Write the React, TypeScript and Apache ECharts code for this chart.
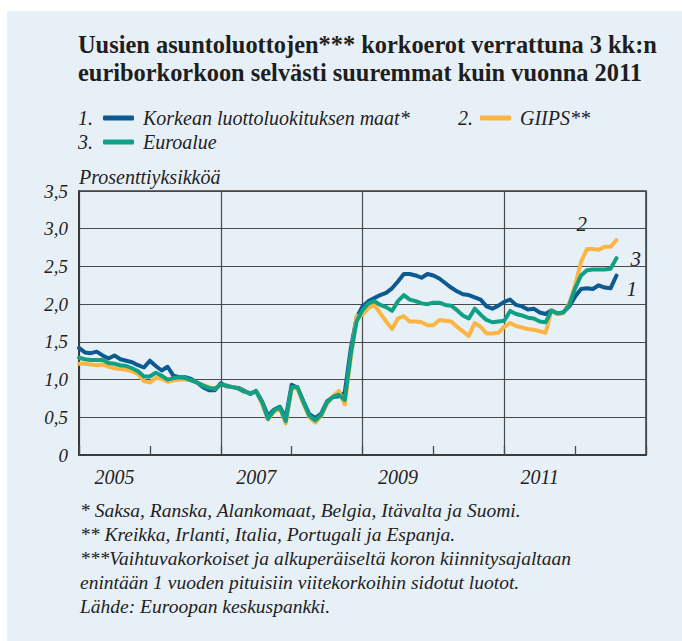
import React, { useEffect, useRef } from "react";
import * as echarts from "echarts";

// months since Jan 2005 (0 = Jan 2005)
const monthIndex: number[] = Array.from({ length: 92 }, (_, i) => i);

const korkeat: number[] = [
  1.42, 1.36, 1.35, 1.37, 1.32, 1.28, 1.32, 1.27, 1.25, 1.23, 1.19, 1.16,
  1.25, 1.18, 1.12, 1.17, 1.05, 1.03, 1.03, 1.01, 0.96, 0.9, 0.86, 0.86,
  0.95, 0.91, 0.9, 0.89, 0.85, 0.81, 0.85, 0.71, 0.52, 0.6, 0.64, 0.49,
  0.93, 0.89, 0.71, 0.54, 0.49, 0.55, 0.71, 0.77, 0.78, 0.83, 1.4, 1.82,
  1.97, 2.04, 2.08, 2.12, 2.15, 2.21, 2.3, 2.4, 2.4, 2.38, 2.35, 2.4,
  2.38, 2.34, 2.28, 2.22, 2.17, 2.13, 2.12, 2.09, 2.06, 1.97, 1.94, 1.98,
  2.03, 2.06, 1.99, 1.97, 1.93, 1.94, 1.89, 1.87, 1.92, 1.87, 1.89, 1.97,
  2.1, 2.2, 2.21, 2.2, 2.25, 2.22, 2.21, 2.38,
];

const giips: number[] = [
  1.21, 1.21, 1.2, 1.19, 1.2, 1.17, 1.15, 1.14, 1.13, 1.11, 1.07, 0.98,
  0.96, 1.02, 1.01, 0.97, 0.99, 1.0, 1.0, 0.99, 0.96, 0.93, 0.9, 0.88,
  0.93, 0.92, 0.9, 0.88, 0.84, 0.82, 0.84, 0.68, 0.47, 0.57, 0.62, 0.42,
  0.88, 0.88, 0.68, 0.5, 0.43, 0.52, 0.68, 0.78, 0.85, 0.67, 1.28, 1.84,
  1.86, 1.95, 1.99, 1.88, 1.77, 1.67, 1.81, 1.84, 1.77, 1.77, 1.76, 1.72,
  1.72, 1.79, 1.78, 1.77, 1.7, 1.64, 1.58, 1.75, 1.7, 1.61, 1.61, 1.62,
  1.7, 1.75, 1.71, 1.69, 1.67, 1.66, 1.64, 1.62, 1.92, 1.87, 1.88, 2.01,
  2.25, 2.56, 2.73, 2.73, 2.72, 2.76, 2.76, 2.85,
];

const euroalue: number[] = [
  1.29, 1.27, 1.26, 1.26, 1.26, 1.22, 1.21, 1.19, 1.18, 1.15, 1.11, 1.04,
  1.04, 1.09, 1.05, 1.0, 1.02, 1.03, 1.02, 0.99, 0.96, 0.92, 0.89, 0.88,
  0.93, 0.92, 0.9, 0.88, 0.84, 0.82, 0.84, 0.7, 0.48, 0.59, 0.63, 0.45,
  0.9, 0.9, 0.7, 0.52, 0.46, 0.53, 0.7, 0.77, 0.8, 0.73, 1.33, 1.77,
  1.92, 2.01, 2.04, 1.99, 1.96, 1.91, 2.04, 2.12, 2.06, 2.04, 2.01, 2.0,
  2.02, 2.02, 1.99, 1.98, 1.92, 1.85, 1.81, 1.94, 1.86, 1.79, 1.76, 1.77,
  1.78, 1.91, 1.87, 1.85, 1.82, 1.81, 1.77, 1.76, 1.91, 1.88, 1.89, 1.99,
  2.21, 2.38, 2.45, 2.46, 2.46, 2.46, 2.47, 2.61,
];

const seriesNames: string[] = [
  "Korkean luottoluokituksen maat*",
  "GIIPS**",
  "Euroalue",
];
const seriesNumbers: string[] = ["1.", "2.", "3."];
const endLabels: string[] = ["1", "2", "3"];

const yearLabels: string[] = ["2005", "2007", "2009", "2011"];
const firstYear = 2005;

const titleText =
  "Uusien asuntoluottojen*** korkoerot verrattuna 3 kk:n\neuriborkorkoon selvästi suuremmat kuin vuonna 2011";
const yUnit = "Prosenttiyksikköä";
const footnotes: string[] = [
  "* Saksa, Ranska, Alankomaat, Belgia, Itävalta ja Suomi.",
  "** Kreikka, Irlanti, Italia, Portugali ja Espanja.",
  "***Vaihtuvakorkoiset ja alkuperäiseltä koron kiinnitysajaltaan",
  "enintään 1 vuoden pituisiin viitekorkoihin sidotut luotot.",
  "Lähde: Euroopan keskuspankki.",
];

const BLUE = "#0b5a92";
const ORANGE = "#fbb545";
const GREEN = "#10a084";
const BG = "#e8f0f7";
const GRIDC = "#4a4a4a";
const TXT = "#222";
const SERIF = "'Liberation Serif', 'DejaVu Serif', serif";

export default function App() {
  const ref = useRef<HTMLDivElement>(null);
  useEffect(() => {
    if (!ref.current) return;
    const chart = echarts.init(ref.current, undefined, { renderer: "svg" });
    const toPairs = (arr: number[]) => arr.map((v, i) => [monthIndex[i], v]);
    const baseLegendText = {
      fontFamily: SERIF,
      fontStyle: "italic" as const,
      fontSize: 20,
      color: TXT,
      padding: [0, 0, 0, 4],
    };
    const legendCommon = {
      orient: "horizontal" as const,
      itemWidth: 31,
      itemHeight: 5,
      icon: "roundRect",
      textStyle: baseLegendText,
      selectedMode: false as const,
      padding: 0,
    };
    const colors = [BLUE, ORANGE, GREEN];
    const datasets = [korkeat, giips, euroalue];
    const endOffsets: [number, number][] = [
      [2, 14],
      [-48, -16],
      [6, 1],
    ];
    const series = datasets.map((d, k) => ({
      name: seriesNames[k],
      type: "line" as const,
      xAxisIndex: 0,
      yAxisIndex: 0,
      data: toPairs(d),
      showSymbol: false,
      symbol: "none",
      z: 3 + (k === 2 ? 2 : k),
      lineStyle: { color: colors[k], width: 4, cap: "round", join: "round" },
      itemStyle: { color: colors[k] },
      endLabel: {
        show: true,
        formatter: endLabels[k],
        offset: endOffsets[k],
        fontFamily: SERIF,
        fontStyle: "italic",
        fontSize: 21,
        color: TXT,
      },
    }));

    const option: any = {
      animation: false,
      backgroundColor: "#ffffff",
      title: {
        text: titleText,
        left: 78,
        top: 30,
        padding: 0,
        textStyle: {
          fontFamily: SERIF,
          fontWeight: "bold",
          fontSize: 24.4,
          lineHeight: 28,
          color: "#1e1e1e",
        },
      },
      legend: [
        { ...legendCommon, data: [seriesNames[0]], left: 103, top: 108 },
        { ...legendCommon, data: [seriesNames[1]], left: 480, top: 108 },
        { ...legendCommon, data: [seriesNames[2]], left: 103, top: 132 },
      ],
      grid: {
        left: 79,
        right: 36,
        top: 191,
        bottom: 186,
        show: true,
        borderColor: "#3a3a3a",
        borderWidth: 1.5,
        backgroundColor: "transparent",
      },
      xAxis: [
        {
          type: "value",
          min: 0,
          max: 96,
          interval: 6,
          position: "bottom",
          axisLine: { show: true, lineStyle: { color: "#3a3a3a", width: 2 } },
          axisTick: { show: false },
          splitLine: { show: false },
          axisLabel: {
            margin: 12,
            fontFamily: SERIF,
            fontStyle: "italic",
            fontSize: 20,
            color: TXT,
            formatter: (v: number) => {
              if (v % 24 !== 6) return "";
              const yr = String(firstYear + (v - 6) / 12);
              return yearLabels.includes(yr) ? yr : "";
            },
          },
        },
        {
          type: "value",
          min: 0,
          max: 96,
          interval: 24,
          position: "bottom",
          axisLine: { show: false },
          axisTick: { show: false },
          axisLabel: { show: false },
          splitLine: { show: true, lineStyle: { color: GRIDC, width: 1.2 } },
        },
        {
          type: "value",
          min: 0,
          max: 96,
          interval: 12,
          position: "bottom",
          axisLine: { show: false },
          axisTick: {
            show: true,
            inside: true,
            length: 9,
            lineStyle: { color: GRIDC, width: 1.3 },
          },
          axisLabel: { show: false },
          splitLine: { show: false },
        },
      ],
      yAxis: {
        type: "value",
        min: 0,
        max: 3.5,
        interval: 0.5,
        name: yUnit,
        nameLocation: "end",
        nameGap: 4,
        nameTextStyle: {
          align: "left",
          fontFamily: SERIF,
          fontStyle: "italic",
          fontSize: 20,
          color: TXT,
        },
        axisLine: { show: true, lineStyle: { color: "#3a3a3a", width: 2 } },
        axisTick: { show: false },
        splitLine: { show: true, lineStyle: { color: GRIDC, width: 1.2 } },
        axisLabel: {
          margin: 11,
          fontFamily: SERIF,
          fontStyle: "italic",
          fontSize: 19,
          color: TXT,
          formatter: (v: number) => (v === 0 ? "0" : v.toFixed(1).replace(".", ",")),
        },
      },
      graphic: [
        {
          type: "rect",
          z: -100,
          silent: true,
          shape: { x: 7, y: 11, width: 682, height: 640 },
          style: { fill: BG },
        },
        ...seriesNumbers.map((t, k) => ({
          type: "text",
          z: 10,
          style: {
            text: t,
            x: k === 1 ? 458 : 78,
            y: k === 2 ? 142 : 118,
            verticalAlign: "middle",
            font: `italic 20px ${SERIF}`,
            fill: TXT,
          },
        })),
        ...footnotes.map((t, k) => ({
          type: "text",
          z: 10,
          style: {
            text: t,
            x: 80,
            y: 510 + k * 24,
            verticalAlign: "middle",
            font: `italic 19.5px ${SERIF}`,
            fill: TXT,
          },
        })),
      ],
      series,
    };
    chart.setOption(option);
    return () => chart.dispose();
  }, []);
  return (
    <div
      ref={ref}
      style={{ position: "fixed", left: 0, top: 0, width: 682, height: 641 }}
    />
  );
}
